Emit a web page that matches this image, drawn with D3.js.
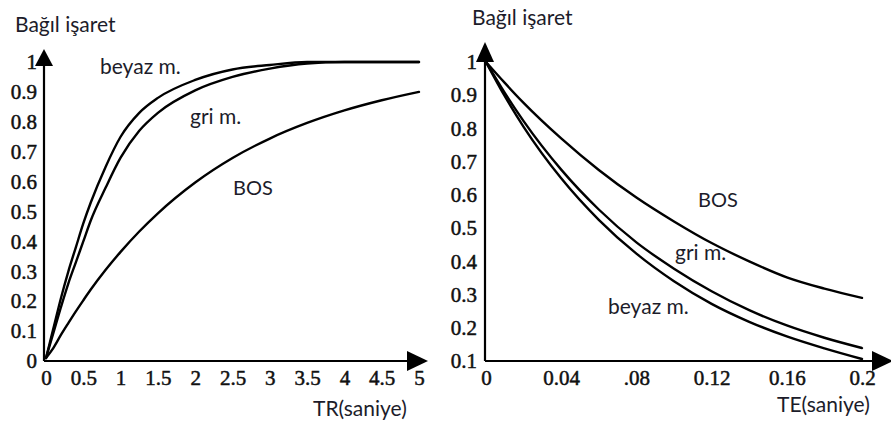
<!DOCTYPE html>
<html><head><meta charset="utf-8">
<script src="https://cdn.jsdelivr.net/npm/d3@7"></script>
<style>
html,body{margin:0;padding:0;background:#fff;}
svg{display:block;}
.tick text{font-family:"Liberation Serif","Times New Roman",serif;font-size:21px;fill:#111;stroke:#111;stroke-width:0.5px;}
.lbl{font-family:Lato,"Open Sans",sans-serif;fill:#1c1c2a;}
</style></head>
<body>
<svg id="c" width="891" height="423"></svg>
<script>
// ---------- data: left chart (T1 recovery) ----------
const trValues = [0, 0.1, 0.2, 0.3, 0.4, 0.5, 0.6, 0.8, 1, 1.25, 1.5, 2, 2.5, 3, 3.5, 4, 4.5, 5];
const trBeyaz  = [0.01, 0.11, 0.21, 0.30, 0.38, 0.46, 0.53, 0.65, 0.75, 0.83, 0.88, 0.94, 0.975, 0.99, 1.0, 1.0, 1.0, 1.0];
const trGri    = [0.01, 0.095, 0.18, 0.26, 0.33, 0.40, 0.47, 0.58, 0.68, 0.77, 0.83, 0.905, 0.95, 0.978, 0.995, 1.0, 1.0, 1.0];
const trBos    = [0.01, 0.044, 0.087, 0.127, 0.166, 0.203, 0.239, 0.305, 0.365, 0.433, 0.494, 0.597, 0.679, 0.744, 0.796, 0.838, 0.872, 0.90];
const trTicks  = [0, 0.5, 1, 1.5, 2, 2.5, 3, 3.5, 4, 4.5, 5];
const trTickLabels = ["0", "0.5", "1", "1.5", "2", "2.5", "3", "3.5", "4", "4.5", "5"];
const leftYTicks = [0, 0.1, 0.2, 0.3, 0.4, 0.5, 0.6, 0.7, 0.8, 0.9, 1];
const leftYTickLabels = ["0", "0.1", "0.2", "0.3", "0.4", "0.5", "0.6", "0.7", "0.8", "0.9", "1"];

// ---------- data: right chart (T2 decay) ----------
const teValues = [0, 0.01, 0.02, 0.04, 0.06, 0.08, 0.10, 0.12, 0.14, 0.16, 0.18, 0.2];
const teBos    = [1, 0.937, 0.877, 0.77, 0.675, 0.592, 0.52, 0.455, 0.40, 0.352, 0.318, 0.29];
const teGri    = [1, 0.907, 0.822, 0.676, 0.556, 0.457, 0.378, 0.31, 0.253, 0.207, 0.17, 0.139];
const teBeyaz  = [1, 0.897, 0.805, 0.65, 0.525, 0.423, 0.34, 0.272, 0.218, 0.174, 0.138, 0.106];
const teTicks  = [0, 0.04, 0.08, 0.12, 0.16, 0.2];
const teTickLabels = ["0", "0.04", ".08", "0.12", "0.16", "0.2"];
const rightYTicks = [0.1, 0.2, 0.3, 0.4, 0.5, 0.6, 0.7, 0.8, 0.9, 1];
const rightYTickLabels = ["0.1", "0.2", "0.3", "0.4", "0.5", "0.6", "0.7", "0.8", "0.9", "1"];

const yTitle = "Bağıl işaret";
const seriesNames = ["beyaz m.", "gri m.", "BOS"];

// ---------- drawing ----------
const svg = d3.select("#c");
svg.append("rect").attr("width", 891).attr("height", 423).attr("fill", "#fff");

function panel(opt) {
  const g = svg.append("g");
  const x = d3.scaleLinear(opt.xDomain, opt.xRange);
  const y = d3.scaleLinear(opt.yDomain, opt.yRange);
  const x0 = x(opt.xDomain[0]) - opt.axisInset;
  const yb = y(opt.yDomain[0]);

  const xa = d3.axisBottom(x).tickValues(opt.xTicks)
    .tickFormat((d, i) => opt.xTickLabels[i]).tickSize(0).tickPadding(9);
  g.append("g").attr("transform", `translate(0,${yb})`).call(xa)
    .call(s => s.select(".domain").remove());
  const ya = d3.axisLeft(y).tickValues(opt.yTicks)
    .tickFormat((d, i) => opt.yTickLabels[i]).tickSize(0).tickPadding(opt.yPad);
  g.append("g").attr("transform", `translate(${x0},0)`).call(ya)
    .call(s => s.select(".domain").remove());

  const xEnd = opt.xArrowTip, yTop = opt.yArrowTip;
  g.append("line").attr("x1", x0).attr("x2", xEnd - 18).attr("y1", yb).attr("y2", yb)
    .attr("stroke", "#000").attr("stroke-width", 2.2);
  g.append("path").attr("d", `M${xEnd},${yb} L${xEnd - 21},${yb - 10} L${xEnd - 21},${yb + 10} Z`).attr("fill", "#000");
  g.append("line").attr("x1", x0).attr("x2", x0).attr("y1", yb).attr("y2", yTop + 14)
    .attr("stroke", "#000").attr("stroke-width", 2.2);
  g.append("path").attr("d", `M${x0},${yTop} L${x0 - 9},${yTop + opt.yArrowLen} L${x0 + 9},${yTop + opt.yArrowLen} Z`).attr("fill", "#000");

  const line = d3.line().x(d => x(d[0])).y(d => y(d[1])).curve(d3.curveMonotoneX);
  opt.series.forEach(s => {
    g.append("path").datum(opt.xs.map((v, i) => [v, s[i]]))
      .attr("d", line).attr("fill", "none").attr("stroke", "#000")
      .attr("stroke-width", 2.4).attr("stroke-linejoin", "round").attr("stroke-linecap", "round");
  });

  opt.texts.forEach(t => {
    g.append("text").attr("class", "lbl").attr("x", t[1]).attr("y", t[2])
      .style("font-size", t[3] + "px").text(t[0]);
  });
}

panel({
  xDomain: [0, 5], xRange: [46, 419], yDomain: [0, 1], yRange: [361, 62],
  axisInset: 2, yPad: 7, xArrowTip: 428, yArrowTip: 49, yArrowLen: 17,
  xTicks: trTicks, xTickLabels: trTickLabels, yTicks: leftYTicks, yTickLabels: leftYTickLabels,
  xs: trValues, series: [trBeyaz, trGri, trBos],
  texts: [[yTitle, 15, 32, 21], [seriesNames[0], 100, 74, 21], [seriesNames[1], 190, 124, 21], [seriesNames[2], 233, 195, 20], ["TR(saniye)", 313, 416, 21]]
});

panel({
  xDomain: [0, 0.2], xRange: [486, 862], yDomain: [0.1, 1], yRange: [361, 62],
  axisInset: 1, yPad: 8, xArrowTip: 893, yArrowTip: 42, yArrowLen: 20,
  xTicks: teTicks, xTickLabels: teTickLabels, yTicks: rightYTicks, yTickLabels: rightYTickLabels,
  xs: teValues, series: [teBos, teGri, teBeyaz],
  texts: [[yTitle, 472, 25, 21], [seriesNames[2], 698, 207, 20], [seriesNames[1], 675, 260, 21], [seriesNames[0], 608, 314, 21], ["TE(saniye)", 777, 412, 21]]
});
</script>
</body></html>
